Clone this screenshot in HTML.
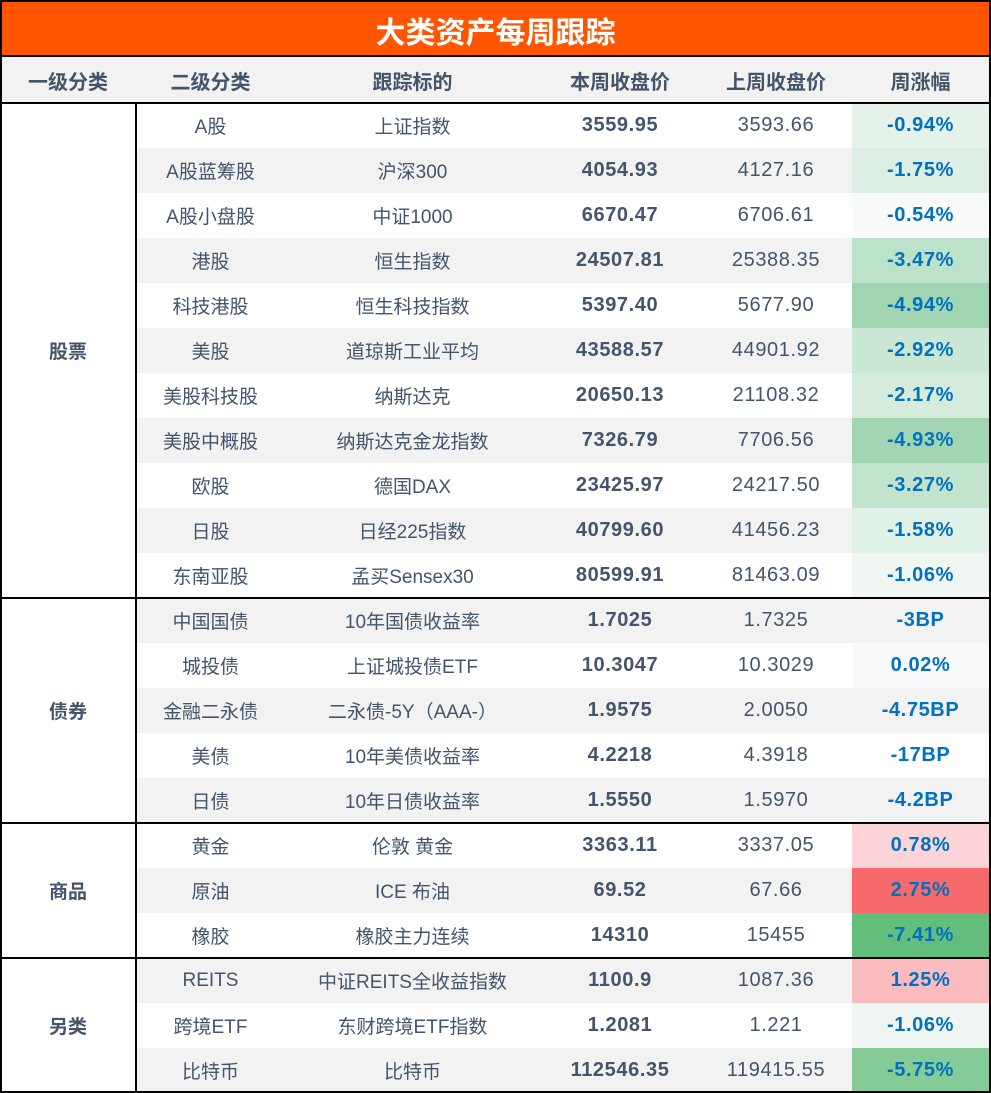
<!DOCTYPE html>
<html><head><meta charset="utf-8"><style>
body{margin:0;width:991px;height:1093px;background:#fff;position:relative;overflow:hidden;font-family:"Liberation Sans","Noto Sans CJK SC",sans-serif;color:#44546A}
.a{position:absolute;box-sizing:border-box}
.c{position:absolute;display:flex;align-items:center;justify-content:center;font-size:19px;box-sizing:border-box}
.n{font-size:20px;letter-spacing:0.6px}
</style></head><body>
<div class="a" style="left:0;top:0;width:991px;height:57px;background:#FF5500;border:2px solid #000;border-bottom:none;display:flex;align-items:center;justify-content:center;color:#fff;font-size:30px;font-weight:bold">大类资产每周跟踪</div>
<div id="t"></div>
<script>
const cats=["股票","债券","商品","另类"];
const catSizes=[11,5,3,3];
const sub=["A股","A股蓝筹股","A股小盘股","港股","科技港股","美股","美股科技股","美股中概股","欧股","日股","东南亚股","中国国债","城投债","金融二永债","美债","日债","黄金","原油","橡胶","REITS","跨境ETF","比特币"];
const idx=["上证指数","沪深300","中证1000","恒生指数","恒生科技指数","道琼斯工业平均","纳斯达克","纳斯达克金龙指数","德国DAX","日经225指数","孟买Sensex30","10年国债收益率","上证城投债ETF","二永债-5Y（AAA-）","10年美债收益率","10年日债收益率","伦敦 黄金","ICE 布油","橡胶主力连续","中证REITS全收益指数","东财跨境ETF指数","比特币"];
const cur=["3559.95","4054.93","6670.47","24507.81","5397.40","43588.57","20650.13","7326.79","23425.97","40799.60","80599.91","1.7025","10.3047","1.9575","4.2218","1.5550","3363.11","69.52","14310","1100.9","1.2081","112546.35"];
const prev=["3593.66","4127.16","6706.61","25388.35","5677.90","44901.92","21108.32","7706.56","24217.50","41456.23","81463.09","1.7325","10.3029","2.0050","4.3918","1.5970","3337.05","67.66","15455","1087.36","1.221","119415.55"];
const chg=["-0.94%","-1.75%","-0.54%","-3.47%","-4.94%","-2.92%","-2.17%","-4.93%","-3.27%","-1.58%","-1.06%","-3BP","0.02%","-4.75BP","-17BP","-4.2BP","0.78%","2.75%","-7.41%","1.25%","-1.06%","-5.75%"];
const chgBg=["#E4F2EA","#DDEFE4","#F8FBFA","#BDE2CA","#A1D5B1","#C9E7D3","#D5ECDD","#A2D5B2","#C2E4CD","#E0F1E7","#EFF6F2","#F2F2F2","#FAFAFC","#F2F2F2","#FFFFFF","#F2F2F2","#FCD4D8","#F8696B","#63BE7B","#FABBBF","#EFF6F2","#85CB97"];
const X=[0,136,285,540,700,852,989];
const heads=["一级分类","二级分类","跟踪标的","本周收盘价","上周收盘价","周涨幅"];
const T=document.getElementById('t');
function cell(x,y,w,h,txt,st,name,cls){const d=document.createElement('div');d.className='c'+(cls?' '+cls:'');d.style.cssText+=`left:${x}px;top:${y}px;width:${w}px;height:${h}px;`+st;d.textContent=txt;


T.appendChild(d);return d;}
cell(0,57,991,46,"","background:#F2F2F2;","header-row");
heads.forEach((h,i)=>cell(X[i],57,X[i+1]-X[i],46,h,"font-weight:bold;font-size:20px;","header-"+i));
const top0=103,RH=45;
for(let i=0;i<sub.length;i++){const y=top0+i*RH;const g=i%2?"#F2F2F2":"#fff";
cell(X[1],y,X[5]-X[1],RH,"","background:"+g+";","row-bg-"+i);
cell(X[1],y,X[2]-X[1],RH,sub[i],"","sub-category-"+i);
cell(X[2],y,X[3]-X[2],RH,idx[i],"","index-name-"+i);
cell(X[3],y,X[4]-X[3],RH,cur[i],"font-weight:bold;","this-week-close-"+i,"n");
cell(X[4],y,X[5]-X[4],RH,prev[i],"","last-week-close-"+i,"n");
cell(X[5],y,X[6]-X[5],RH,chg[i],"font-weight:bold;color:#0070C0;background:"+chgBg[i]+";","weekly-change-"+i,"n");}
let s=0;catSizes.forEach((n,k)=>{const y=top0+s*RH;
cell(0,y,X[1],n*RH,cats[k],"font-weight:bold;","category-"+k);
if(k>0){cell(0,y-1,991,2,"","background:#000;","group-separator-"+k);}
s+=n;});
cell(0,102,991,2,"","background:#000;","header-border");
cell(X[1]-1,103,2,990,"","background:#000;","col1-border");
cell(0,0,2,1093,"","background:#000;","left-border");
cell(989,0,2,1093,"","background:#000;","right-border");
cell(0,1091,991,2,"","background:#000;","bottom-border");
cell(0,55,991,2,"","background:#000;","title-border");
</script>
</body></html>
